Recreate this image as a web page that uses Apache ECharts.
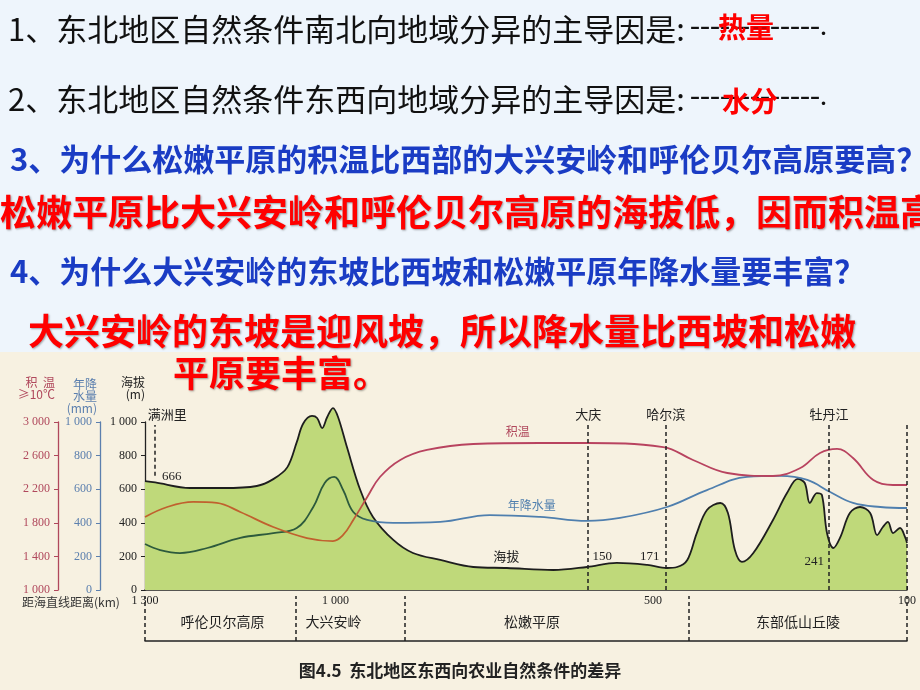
<!DOCTYPE html>
<html><head><meta charset="utf-8">
<script src="https://cdn.jsdelivr.net/npm/echarts@6/dist/echarts.min.js"></script>
<style>html,body{margin:0;padding:0;background:#EEF5FC;}#c{width:920px;height:690px;}</style>
</head><body><div id="c"></div>
<script>
// ---- data ----
// elevation profile (distance from coast in km, elevation in m)
const elevKm = [1300,1284,1229,1177,1124,1098,1076,1061,1051,1037,1029,1021,1013,1004,996,982,961,941,909,878,835,783,730,657,604,557,509,478,462,446,431,415,394,382,371,360,342,311,289,272,261,253,242,234,226,216,205,190,174,158,147,138,130,122,111,103,100];
const elevM  = [648,640,607,607,619,660,730,880,990,1036,1024,964,1030,1083,1030,851,595,435,298,220,179,137,131,119,137,161,149,131,137,179,339,476,518,458,238,167,220,417,577,661,637,518,577,565,339,250,315,458,494,458,327,375,405,339,369,315,280];
// annual precipitation (mm)
const precipKm = [1300,1276,1245,1202,1150,1098,1061,1035,1017,1002,988,972,950,909,835,757,678,604,552,478,415,352,300,257,221,185,142,100];
const precipMm = [274,238,220,250,310,339,369,494,637,673,595,464,417,399,405,446,435,411,429,494,595,673,679,655,583,518,494,488];
// accumulated temperature >=10°C
const tempKm = [1300,1265,1224,1187,1150,1098,1045,1004,988,972,950,930,898,856,783,678,604,484,437,383,311,268,237,210,185,153,122,100];
const tempC  = [1869,1988,2048,2036,1929,1750,1619,1583,1655,1833,2107,2345,2548,2667,2738,2750,2750,2702,2548,2393,2357,2452,2631,2679,2571,2310,2250,2250];
// cities
const cityNames = ['满洲里','大庆','哈尔滨','牡丹江',''];
const cityKm = [1284,602,480,223,100];
// regions
const regionNames = ['呼伦贝尔高原','大兴安岭','松嫩平原','东部低山丘陵'];
const regionBounds = [1300,1062,891,443,100];
// x tick labels
const xTicks = [1300,1000,500,100];
// annotations
const elevNotes = [['666',1258,673],['150',580,196],['171',505,196],['241',246,172],['海拔',731,202]];
const precipNote = ['年降水量',691,506];
const tempNote = ['积温',713,2893];
// slide texts
const q1 = '1、东北地区自然条件南北向地域分异的主导因是:';
const a1 = '热量';
const q2 = '2、东北地区自然条件东西向地域分异的主导因是:';
const a2 = '水分';
const q3 = '3、为什么松嫩平原的积温比西部的大兴安岭和呼伦贝尔高原要高？';
const a3 = '松嫩平原比大兴安岭和呼伦贝尔高原的海拔低，因而积温高';
const q4 = '4、为什么大兴安岭的东坡比西坡和松嫩平原年降水量要丰富？';
const a4a = '大兴安岭的东坡是迎风坡，所以降水量比西坡和松嫩';
const a4b = '平原要丰富。';
const caption = '图4.5  东北地区东西向农业自然条件的差异';
const distName = '距海直线距离(km)';

const zip = (a,b) => a.map((v,i)=>[v,b[i]]);
const fmtK = v => v >= 1000 ? String(v).replace(/(\d)(\d{3})$/,'$1 $2') : String(v);
const CJK = 'Noto Sans CJK SC';
const SERIF = 'Liberation Serif';

const chart = echarts.init(document.getElementById('c'));
const redShadow = {textShadowColor:'rgba(0,0,0,0.35)', textShadowBlur:2, textShadowOffsetX:1, textShadowOffsetY:1};
const mkTitle = (text,left,top,style) => ({text, left, top, padding:0, textStyle:Object.assign({fontFamily:CJK, fontWeight:'normal'}, style)});

const tempGrad = new echarts.graphic.LinearGradient(145,0,907,0,[{offset:0,color:'#c0612e'},{offset:0.27,color:'#c0612e'},{offset:0.3,color:'#b8435f'},{offset:1,color:'#b8435f'}],true);
const precGrad = new echarts.graphic.LinearGradient(145,0,907,0,[{offset:0,color:'#2d5a3c'},{offset:0.28,color:'#2d5a3c'},{offset:0.31,color:'#4f7fae'},{offset:1,color:'#4f7fae'}],true);

const yAxisBase = (idx, min, max, interval, offset, color, name, padRight, gap) => ({
  type:'value', gridIndex:0, position:'left', offset, min, max, interval,
  name, nameLocation:'end', nameGap:gap,
  nameTextStyle:{align:'right', verticalAlign:'bottom', color, fontSize:12, lineHeight:12, fontFamily:CJK, padding:[0,padRight,0,0]},
  axisLine:{show:true, lineStyle:{color, width:1.3}},
  axisTick:{show:true, inside:false, length:4, lineStyle:{color}},
  axisLabel:{show:true, margin:8, color, fontFamily:SERIF, fontSize:12, formatter:fmtK},
  splitLine:{show:false}
});

chart.setOption({
  backgroundColor:'#EEF5FC',
  animation:false,
  graphic:[{type:'rect', z:-10, shape:{x:0,y:352,width:920,height:338}, style:{fill:'#F7F1E1'}}],
  title:[
    mkTitle(q1,8,14,{fontSize:31,color:'#111'}),
    mkTitle('-------------.',690,12,{fontSize:30,color:'#111',fontFamily:SERIF}),
    mkTitle(a1,718,13,{fontSize:28,color:'#ff0000',fontWeight:'bold'}),
    mkTitle(q2,8,84,{fontSize:31,color:'#111'}),
    mkTitle('-------------.',690,82,{fontSize:30,color:'#111',fontFamily:SERIF}),
    mkTitle(a2,722,87,{fontSize:28,color:'#ff0000',fontWeight:'bold'}),
    mkTitle(q3,10,144,{fontSize:31,color:'#1a3cc4',fontWeight:'bold'}),
    mkTitle(a3,0,194,Object.assign({fontSize:36,color:'#ff0000',fontWeight:'bold'},redShadow)),
    mkTitle(q4,10,256,{fontSize:31,color:'#1a3cc4',fontWeight:'bold'}),
    mkTitle(a4a,28,313,Object.assign({fontSize:36,color:'#ff0000',fontWeight:'bold'},redShadow)),
    mkTitle(a4b,173,355,Object.assign({fontSize:36,color:'#ff0000',fontWeight:'bold'},redShadow)),
    mkTitle(caption,'center',662,{fontSize:17,color:'#222',fontWeight:'bold'}),
    mkTitle(distName,22,596,{fontSize:12,color:'#333'})
  ],
  grid:[
    {left:145, right:13, top:422, bottom:100, containLabel:false},
    {left:145, right:13, top:596, bottom:49, containLabel:false}
  ],
  xAxis:[
    {type:'value', gridIndex:0, min:100, max:1300, inverse:true,
     axisLine:{show:true, lineStyle:{color:'#222', width:1.5}},
     axisTick:{show:true, inside:true, length:4, customValues:xTicks, lineStyle:{color:'#222'}},
     axisLabel:{show:true, customValues:xTicks, margin:5, color:'#222', fontFamily:SERIF, fontSize:12, formatter:fmtK},
     splitLine:{show:false}},
    {type:'value', gridIndex:1, min:100, max:1300, inverse:true,
     axisLine:{show:true, lineStyle:{color:'#222', width:1.5}},
     axisTick:{show:false}, axisLabel:{show:false}, splitLine:{show:false}}
  ],
  yAxis:[
    yAxisBase(0,0,1000,200,0,'#222','海拔\n(m)',0,22),
    yAxisBase(1,0,1000,200,45,'#5b7fae','年降\n水量\n(mm)',3,8),
    yAxisBase(2,1000,3000,400,87,'#b0485c','积  温\n≥10℃',3,22),
    {type:'value', gridIndex:1, min:0, max:1, show:false}
  ],
  series:[
    {type:'line', name:'海拔', xAxisIndex:0, yAxisIndex:0, data:zip(elevKm,elevM), smooth:0.35, symbol:'none', clip:false, z:2,
     lineStyle:{color:'#1e1e1e', width:1.8},
     areaStyle:{color:'#BFD97A', opacity:1},
     markLine:{silent:true, symbol:['none','none'],
       lineStyle:{type:[4,3], color:'#222', width:1.5},
       label:{show:true, position:'end', formatter:'{b}', color:'#222', fontFamily:CJK, fontSize:13, distance:4},
       data: cityKm.map((km,i)=>[
         {name:cityNames[i], coord:[km, i===0?680:0], label: i===0?{offset:[12,0]}:undefined},
         {coord:[km, 982]}
       ])},
     markPoint:{silent:true, symbol:'circle', symbolSize:0, z:10,
       label:{show:true, position:'inside', color:'#222', fontFamily:SERIF, fontSize:13},
       data: elevNotes.map(n=>({name:n[0], coord:[n[1],n[2]], value:n[0], label:{formatter:n[0], fontFamily: /\d/.test(n[0])?SERIF:CJK}}))}
    },
    {type:'line', name:'年降水量', xAxisIndex:0, yAxisIndex:1, data:zip(precipKm,precipMm), smooth:0.4, symbol:'none', clip:false, z:3,
     lineStyle:{color:precGrad, width:1.8},
     markPoint:{silent:true, symbolSize:0,
       label:{show:true, position:'inside', color:'#4f7fae', fontFamily:CJK, fontSize:12, formatter:precipNote[0]},
       data:[{name:precipNote[0], coord:[precipNote[1],precipNote[2]]}]}
    },
    {type:'line', name:'积温', xAxisIndex:0, yAxisIndex:2, data:zip(tempKm,tempC), smooth:0.4, symbol:'none', clip:false, z:3,
     lineStyle:{color:tempGrad, width:1.8},
     markPoint:{silent:true, symbolSize:0,
       label:{show:true, position:'inside', color:'#b0485c', fontFamily:CJK, fontSize:12, formatter:tempNote[0]},
       data:[{name:tempNote[0], coord:[tempNote[1],tempNote[2]]}]}
    },
    {type:'scatter', xAxisIndex:1, yAxisIndex:3, data:[[1300,0]], symbolSize:0, silent:true,
     markLine:{silent:true, symbol:['none','none'], label:{show:false},
       lineStyle:{type:[4,3], color:'#222', width:1.5},
       data: regionBounds.map(v=>({xAxis:v}))},
     markArea:{silent:true, itemStyle:{color:'rgba(0,0,0,0)'},
       label:{show:true, position:'inside', color:'#222', fontFamily:CJK, fontSize:14},
       data: regionNames.map((n,i)=>[
         {name:n, xAxis:regionBounds[i], yAxis:0, label:{offset:[[2,3],[-17,3],[-15,3],[0,3]][i]}},
         {xAxis:regionBounds[i+1], yAxis:1}
       ])}
    }
  ]
});
</script></body></html>
